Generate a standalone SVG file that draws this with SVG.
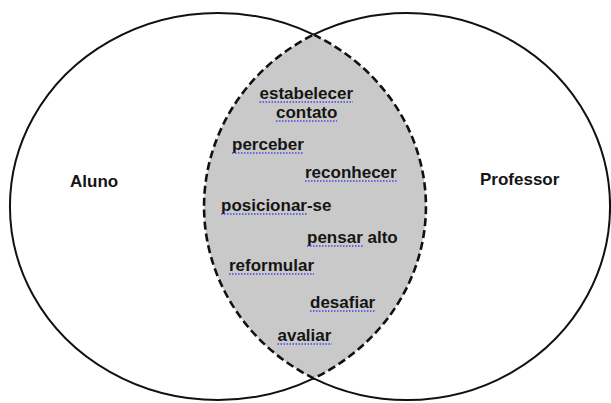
<svg xmlns="http://www.w3.org/2000/svg" width="611" height="403" viewBox="0 0 611 403">
<style>
.outer{fill:none;stroke:#111;stroke-width:2}
.lens{fill:#c9c9c9;stroke:#111;stroke-width:2.6;stroke-dasharray:8 4}
.t{font-family:"Liberation Sans",Arial,sans-serif;font-size:17px;font-weight:bold;fill:#151515}
.sq{stroke:#4646e6;stroke-width:1.3;stroke-dasharray:1.5 1.5;fill:none}
</style>
<rect x="0" y="0" width="611" height="403" fill="#fff"/>
<g id="aluno">
<path class="outer" d="M313.65,34.7 A208,193.5 0 1 0 313.65,378.3"/>
<text class="t" x="70" y="187">Aluno</text>
</g>
<g id="professor">
<path class="outer" d="M313.65,34.7 A203,193.5 0 1 1 313.65,378.3"/>
<text class="t" x="480" y="185">Professor</text>
</g>
<g id="intersecao">
<path class="lens" d="M313.65,34.7 A208,193.5 0 0 1 313.65,378.3 A203,193.5 0 0 1 313.65,34.7 Z"/>
<text class="t" x="259.5" y="99">estabelecer</text>
<text class="t" x="276" y="118">contato</text>
<text class="t" x="232" y="150">perceber</text>
<text class="t" x="305" y="178">reconhecer</text>
<text class="t" x="221" y="211">posicionar-se</text>
<text class="t" x="307" y="243">pensar alto</text>
<text class="t" x="229" y="271">reformular</text>
<text class="t" x="310" y="308">desafiar</text>
<text class="t" x="277.5" y="341">avaliar</text>
<g id="underlines">
<path class="sq" d="M259.5,102 H353"/>
<path class="sq" d="M276,121 H337"/>
<path class="sq" d="M232,153 H304"/>
<path class="sq" d="M305,181 H397"/>
<path class="sq" d="M221,214 H307"/>
<path class="sq" d="M307,246 H363"/>
<path class="sq" d="M229,274 H314"/>
<path class="sq" d="M310,311 H375"/>
<path class="sq" d="M277.5,344 H332"/>
</g>
</g>
<g id="connectors"/>
</svg>
